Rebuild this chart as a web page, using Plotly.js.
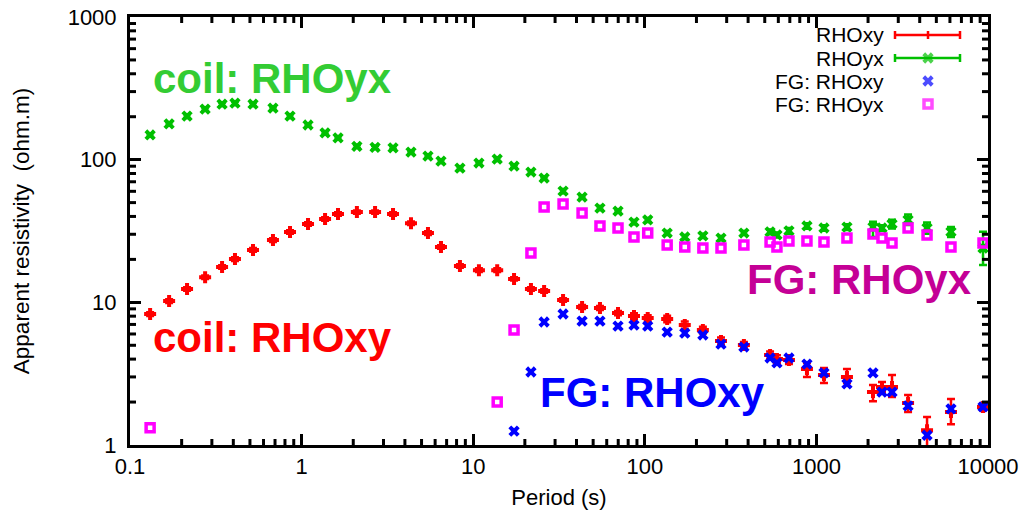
<!DOCTYPE html>
<html>
<head>
<meta charset="utf-8">
<script src="https://cdn.plot.ly/plotly-3.0.1.min.js"></script>
<style>html,body{margin:0;padding:0;background:#fff;}#chart{width:1023px;height:516px;}</style>
</head>
<body>
<div id="chart"></div>
<script>
// ---- data ----
var coilPeriod = [0.131,0.169,0.215,0.274,0.344,0.409,0.521,0.681,0.856,1.09,1.37,1.63,2.10,2.68,3.41,4.34,5.45,6.49,8.37,10.8,13.8,17.3,21.7,25.9,33.4,43.1,54.8,69.8,86.5,104,135,171,218,278,378,537,589,692,881,1107,1507,2137,2411,2758,3421,4414,6085,9353];
var coilRhoxy = [8.28,10.2,12.4,15.0,17.7,20.1,23.3,27.3,31.1,35.4,38.4,41.6,42.9,42.9,41.6,35.9,30.6,24.4,18.0,16.8,16.8,14.6,12.4,12.0,10.4,9.27,9.12,8.41,8.02,7.76,7.64,6.93,6.40,5.36,5.02,4.27,4.01,3.94,3.41,3.09,3.00,2.35,2.55,2.55,1.97,1.27,1.70,1.85];
var coilRhoxyErrPlus = [0.25,0.3,0.35,0.45,0.5,0.6,0.7,0.8,0.9,1.0,1.1,1.2,1.2,1.2,1.2,1.0,0.9,0.7,0.5,0.5,0.5,0.4,0.35,0.35,0.3,0.3,0.3,0.3,0.35,0.35,0.4,0.4,0.35,0.3,0.25,0.25,0.25,0.25,0.35,0.37,0.41,0.28,0.21,0.54,0.27,0.30,0.40,0.10];
var coilRhoxyErrMinus = [0.25,0.3,0.35,0.45,0.5,0.6,0.7,0.8,0.9,1.0,1.1,1.2,1.2,1.2,1.2,1.0,0.9,0.7,0.5,0.5,0.5,0.4,0.35,0.35,0.3,0.3,0.3,0.3,0.35,0.35,0.4,0.4,0.35,0.3,0.25,0.25,0.25,0.25,0.41,0.37,0.28,0.32,0.20,0.38,0.27,0.29,0.30,0.10];
var coilRhoyx = [149,178,202,226,245,249,245,230,202,175,154,142,124,122,121,113,106,97.7,87.3,94.7,101,90.1,81.9,74.3,60.2,54.7,45.8,43.6,36.5,37.8,30.6,28.7,29.2,28.2,30.6,31.2,29.7,31.7,34.3,33.2,33.7,33.7,33.2,35.4,37.8,33.2,31.2,24.0];
var coilRhoyxErrPlus = [4,5,6,6,7,7,7,6,6,5,4,4,3,3,3,3,3,3,2.5,2.5,3,2.5,2.5,2,2,1.5,1.5,1.2,1.2,1.2,1,1,1,1,1,1.2,1.2,1.5,1.5,1.5,1.5,3.0,1.5,2.5,3.5,3.0,2.5,7.2];
var coilRhoyxErrMinus = [4,5,6,6,7,7,7,6,6,5,4,4,3,3,3,3,3,3,2.5,2.5,3,2.5,2.5,2,2,1.5,1.5,1.2,1.2,1.2,1,1,1,1,1,1.2,1.2,1.5,1.5,1.5,1.5,5.0,1.5,2.5,3.0,3.0,2.5,5.7];
var fgPeriod = [0.131,13.8,17.3,21.7,25.9,33.4,43.1,54.8,69.8,86.5,104,135,171,218,278,378,537,589,692,881,1107,1507,2137,2411,2758,3421,4414,6085,9353];
var fgRhoxy = [null,null,1.25,3.25,7.28,8.28,7.39,7.39,6.82,6.93,6.82,6.19,6.09,5.90,5.10,4.86,4.07,3.76,4.07,3.69,3.20,2.68,3.20,2.35,2.35,1.88,1.17,1.79,1.85];
var fgRhoyx = [1.32,2.0,6.40,22.2,46.5,48.9,42.2,34.3,33.2,28.7,30.6,25.2,24.4,24.0,24.0,25.2,26.5,24.4,26.9,26.9,26.5,28.2,30.1,28.2,26.1,33.2,29.7,24.4,26.1];
var xTickVals = [0.1,1,10,100,1000,10000];
var xTickText = ["0.1","1","10","100","1000","10000"];
var yTickVals = [1,10,100,1000];
var yTickText = ["1","10","100","1000"];
var legendNames = ["RHOxy","RHOyx","FG: RHOxy","FG: RHOyx"];

var RED = "#ff0000", GREEN = "#00c000", BLUE = "#0000ff", MAG = "#ff00ff";
var FONT = "Liberation Sans, Arial, Helvetica, sans-serif";
var XR = [-1, 4], YR = [0, 3];

// plot area in pixels (for paper conversions of decorations)
var L = 130, R = 988, T = 17, B = 445;
function px(xp){ return (xp - L) / (R - L); }
function py(yp){ return (B - yp) / (B - T); }

var traces = [
  {x: coilPeriod, y: coilRhoxy, mode: "markers", type: "scatter", cliponaxis: false, showlegend: false,
   marker: {symbol: "cross", size: 10, color: RED, line: {width: 0}},
   error_y: {type: "data", symmetric: false, array: coilRhoxyErrPlus, arrayminus: coilRhoxyErrMinus, color: RED, thickness: 2.5, width: 4}},
  {x: coilPeriod, y: coilRhoyx, mode: "markers", type: "scatter", cliponaxis: false, showlegend: false,
   marker: {symbol: "x", size: 10, color: GREEN, line: {width: 0}},
   error_y: {type: "data", symmetric: false, array: coilRhoyxErrPlus, arrayminus: coilRhoyxErrMinus, color: GREEN, thickness: 2.5, width: 4}},
  {x: fgPeriod, y: fgRhoxy, mode: "markers", type: "scatter", cliponaxis: false, showlegend: false,
   marker: {symbol: "x", size: 10, color: BLUE, line: {width: 0}}},
  {x: fgPeriod, y: fgRhoyx, mode: "markers", type: "scatter", cliponaxis: false, showlegend: false,
   marker: {symbol: "square-open", size: 8, color: MAG, line: {width: 3.5, color: MAG}}},
  // legend sample markers on a hidden overlay axis (0..1 = plot area)
  {x: [px(928), px(928), px(928)], y: [py(58), py(81), py(104)], xaxis: "x2", yaxis: "y2",
   mode: "markers", type: "scatter", cliponaxis: false, showlegend: false, hoverinfo: "skip",
   marker: {symbol: ["x", "x", "square-open"], size: [10, 10, 8], color: [GREEN, BLUE, MAG],
            line: {width: [0, 0, 3.5], color: [GREEN, BLUE, MAG]}}}
];

var shapes = [];
// minor ticks (2..9 in each decade), drawn inward on all four sides (paper coordinates)
var TK = 6 / (B - T), TKX = 6 / (R - L);
for (var d = XR[0]; d < XR[1]; d++) for (var k = 2; k <= 9; k++) {
  var fx = (d + Math.log10(k) - XR[0]) / (XR[1] - XR[0]);
  shapes.push({type: "line", xref: "paper", yref: "paper", x0: fx, x1: fx, y0: 0, y1: TK, line: {color: "#000", width: 3}});
  shapes.push({type: "line", xref: "paper", yref: "paper", x0: fx, x1: fx, y0: 1, y1: 1 - TK, line: {color: "#000", width: 3}});
}
for (var d2 = YR[0]; d2 < YR[1]; d2++) for (var k2 = 2; k2 <= 9; k2++) {
  var fy = (d2 + Math.log10(k2) - YR[0]) / (YR[1] - YR[0]);
  shapes.push({type: "line", xref: "paper", yref: "paper", y0: fy, y1: fy, x0: 0, x1: TKX, line: {color: "#000", width: 3}});
  shapes.push({type: "line", xref: "paper", yref: "paper", y0: fy, y1: fy, x0: 1, x1: 1 - TKX, line: {color: "#000", width: 3}});
}

var legY = [35, 58, 81, 104];
function hl(x0, x1, y, c){ shapes.push({type: "line", xref: "paper", yref: "paper", x0: px(x0), x1: px(x1), y0: py(y), y1: py(y), line: {color: c, width: 2.5}}); }
function vl(x, y0, y1, c){ shapes.push({type: "line", xref: "paper", yref: "paper", x0: px(x), x1: px(x), y0: py(y0), y1: py(y1), line: {color: c, width: 2.5}}); }
hl(895, 960, legY[0], RED); vl(895, legY[0]-4, legY[0]+4, RED); vl(960, legY[0]-4, legY[0]+4, RED); vl(928, legY[0]-4, legY[0]+4, RED);
hl(895, 960, legY[1], GREEN); vl(895, legY[1]-4, legY[1]+4, GREEN); vl(960, legY[1]-4, legY[1]+4, GREEN);

var annotations = [];
for (var i = 0; i < legendNames.length; i++) {
  annotations.push({xref: "paper", yref: "paper", x: px(885), y: py(legY[i]), xanchor: "right", yanchor: "middle",
    text: legendNames[i], showarrow: false, borderpad: 0, font: {family: FONT, size: 21, color: "#000"}});
}
var bigLabels = [
  {t: "coil: RHOyx", x: 151, y: 78, c: "#33cc33"},
  {t: "coil: RHOxy", x: 151, y: 337, c: "#ff0000"},
  {t: "FG: RHOyx", x: 745, y: 280, c: "#c40096"},
  {t: "FG: RHOxy", x: 538, y: 392, c: "#0000ff"}
];
bigLabels.forEach(function(b){
  annotations.push({xref: "paper", yref: "paper", x: px(b.x), y: py(b.y), xanchor: "left", yanchor: "middle",
    text: "<b>" + b.t + "</b>", showarrow: false, font: {family: FONT, size: 42, color: b.c}});
});

var axisCommon = {type: "log", showgrid: false, zeroline: false, showline: true, linecolor: "#000", linewidth: 3,
  mirror: "allticks", ticks: "inside", ticklen: 11, tickwidth: 3, tickcolor: "#000",
  tickfont: {family: FONT, size: 22, color: "#000"}};

var layout = {
  width: 1023, height: 516,
  margin: {l: L, r: 1023 - R, t: T, b: 516 - B},
  paper_bgcolor: "#fff", plot_bgcolor: "#fff",
  font: {family: FONT, color: "#000"},
  showlegend: false,
  xaxis: Object.assign({}, axisCommon, {range: XR, tickmode: "array", tickvals: xTickVals, ticktext: xTickText,
    title: {text: "Period (s)", font: {family: FONT, size: 22}, standoff: 12}}),
  yaxis: Object.assign({}, axisCommon, {range: YR, tickmode: "array", tickvals: yTickVals, ticktext: yTickText,
    ticklabelstandoff: 6,
    title: {text: "Apparent resistivity \u00a0(ohm.m)", font: {family: FONT, size: 22.5}, standoff: 32}}),
  xaxis2: {overlaying: "x", range: [0, 1], visible: false, fixedrange: true},
  yaxis2: {overlaying: "y", range: [0, 1], visible: false, fixedrange: true},
  shapes: shapes,
  annotations: annotations
};

Plotly.newPlot("chart", traces, layout, {staticPlot: true, displayModeBar: false});
</script>
</body>
</html>
